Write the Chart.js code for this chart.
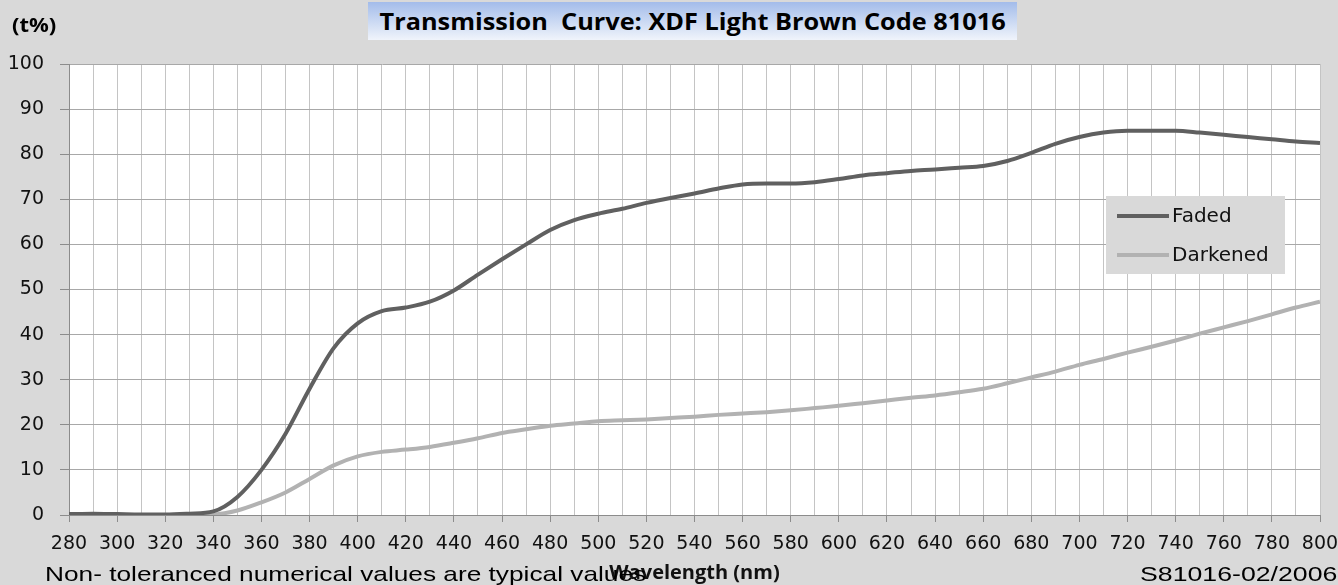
<!DOCTYPE html>
<html>
<head>
<meta charset="utf-8">
<script src="https://cdn.jsdelivr.net/npm/chart.js@4"></script>
<style>
  html, body { margin: 0; padding: 0; background: #d9d9d9; overflow: hidden; }
  #wrap { position: relative; width: 1338px; height: 585px; }
  #title {
    position: absolute; left: 368px; top: 2px; width: 649px; height: 38px;
    background: linear-gradient(#a3bcea, #f0f4fb);
    color: #000; overflow: hidden;
    display: flex; align-items: center; justify-content: center; white-space: nowrap;
  }
  #title span { font: bold 23px "Open Sans", sans-serif; display: inline-block; transform: scaleX(1.1); }
  #unit { position: absolute; left: 12px; top: 11px; font: bold 20px "Open Sans", sans-serif; transform: scaleX(1.1); transform-origin: left; }
  .foot { position: absolute; top: 563px; font: 21px "Liberation Sans", Arial, sans-serif; line-height: 1; color: #000; white-space: nowrap; }
  #note { left: 45px; transform: scaleX(1.25); transform-origin: left; }
  #ref { right: 1px; transform: scaleX(1.27); transform-origin: right; }
</style>
</head>
<body>
<div id="wrap">
  <canvas id="chart"></canvas>
  <div id="unit">(t%)</div>
  <div id="title"><span>Transmission&nbsp; Curve: XDF Light Brown Code 81016</span></div>
  <div class="foot" id="note">Non- toleranced numerical values are typical values</div>
  <div class="foot" id="ref">S81016-02/2006</div>
</div>
<script>
// Wavelength (nm), 10 nm steps
const wavelengths = [
  280, 290, 300, 310, 320, 330, 340, 350, 360, 370,
  380, 390, 400, 410, 420, 430, 440, 450, 460, 470,
  480, 490, 500, 510, 520, 530, 540, 550, 560, 570,
  580, 590, 600, 610, 620, 630, 640, 650, 660, 670,
  680, 690, 700, 710, 720, 730, 740, 750, 760, 770,
  780, 790, 800,
];

// Transmission (%)
const faded = [
  0.2, 0.3, 0.2, 0.1, 0.1, 0.3, 0.8, 4.0, 10.0, 18.0,
  28.0, 37.0, 42.5, 45.2, 46.0, 47.3, 49.8, 53.3, 56.7, 60.0,
  63.2, 65.4, 66.8, 67.9, 69.2, 70.3, 71.3, 72.4, 73.3, 73.5,
  73.5, 73.8, 74.5, 75.3, 75.8, 76.3, 76.6, 77.0, 77.4, 78.5,
  80.3, 82.3, 83.8, 84.8, 85.2, 85.2, 85.2, 84.8, 84.3, 83.8,
  83.3, 82.8, 82.5,
];

const darkened = [
  0, 0, 0, 0, 0, 0, 0.1, 1.0, 2.8, 5.0,
  8.0, 11.0, 13.0, 14.0, 14.5, 15.1, 16.0, 17.0, 18.2, 19.0,
  19.8, 20.3, 20.8, 21.0, 21.2, 21.5, 21.8, 22.2, 22.5, 22.8,
  23.2, 23.7, 24.2, 24.8, 25.4, 26.0, 26.5, 27.2, 28.0, 29.2,
  30.5, 31.8, 33.3, 34.6, 36.0, 37.3, 38.7, 40.2, 41.6, 43.0,
  44.5, 46.0, 47.3,
];

const seriesLabels = ["Faded", "Darkened"];
const seriesColors = ["#606060", "#b2b2b2"];

const toPoints = (vals) => vals.map((v, i) => ({ x: wavelengths[i], y: v }));

// White plot area
const plotBackground = {
  id: "plotBackground",
  beforeDraw(chart) {
    const { ctx, chartArea: a } = chart;
    ctx.save();
    ctx.fillStyle = "#ffffff";
    ctx.fillRect(a.left, a.top, a.right - a.left, a.bottom - a.top);
    ctx.restore();
  },
};

// Legend box drawn inside the plot
const insideLegend = {
  id: "insideLegend",
  afterDatasetsDraw(chart) {
    const ctx = chart.ctx;
    const x = 1106, y = 196, w = 179, h = 78;
    ctx.save();
    ctx.fillStyle = "#d9d9d9";
    ctx.fillRect(x, y, w, h);
    ctx.font = '20px "DejaVu Sans"';
    ctx.textBaseline = "middle";
    chart.data.datasets.forEach((ds, i) => {
      const ly = y + 20 + i * 39;
      ctx.strokeStyle = ds.borderColor;
      ctx.lineWidth = 4;
      ctx.beginPath();
      ctx.moveTo(x + 11, ly);
      ctx.lineTo(x + 63, ly);
      ctx.stroke();
      ctx.fillStyle = "#111";
      ctx.fillText(ds.label, x + 66, ly + 1);
    });
    ctx.restore();
  },
};

new Chart(document.getElementById("chart"), {
  type: "line",
  data: {
    datasets: [
      {
        label: seriesLabels[0],
        data: toPoints(faded),
        borderColor: seriesColors[0],
        borderWidth: 4,
        pointRadius: 0,
        cubicInterpolationMode: "monotone",
      },
      {
        label: seriesLabels[1],
        data: toPoints(darkened),
        borderColor: seriesColors[1],
        borderWidth: 4,
        pointRadius: 0,
        cubicInterpolationMode: "monotone",
      },
    ],
  },
  options: {
    responsive: true,
    maintainAspectRatio: false,
    animation: false,
    layout: { padding: { top: 64, right: 18, left: 0, bottom: 0 } },
    plugins: {
      legend: { display: false },
      tooltip: { enabled: false },
    },
    scales: {
      x: {
        type: "linear",
        min: 280,
        max: 800,
        afterFit: (s) => {
          s.height = 70;
          s.paddingLeft = 0;
          s.paddingRight = 0;
        },
        border: { color: "#8c8c8c", width: 1 },
        grid: {
          color: "#c4c4c4",
          tickLength: 7,
          tickColor: (c) => (c.tick && c.tick.value % 20 === 0 ? "#8c8c8c" : "rgba(0,0,0,0)"),
        },
        ticks: {
          stepSize: 10,
          autoSkip: false,
          maxRotation: 0,
          padding: 11,
          color: "#111",
          font: { family: "DejaVu Sans", size: 19 },
          callback: (v) => (v % 20 === 0 ? v : ""),
        },
        title: {
          display: true,
          text: "Wavelength (nm)",
          color: "#111",
          font: { family: "Open Sans", size: 20, weight: "bold" },
          padding: { top: 0, bottom: 0 },
        },
      },
      y: {
        min: 0,
        max: 100,
        afterFit: (s) => {
          s.width = 69;
        },
        border: { color: "#8c8c8c", width: 1 },
        grid: { color: "#a8a8a8", tickLength: 9, tickColor: "#8c8c8c" },
        ticks: {
          stepSize: 10,
          padding: 16,
          color: "#111",
          font: { family: "DejaVu Sans", size: 19 },
        },
      },
    },
  },
  plugins: [plotBackground, insideLegend],
});
</script>
</body>
</html>
